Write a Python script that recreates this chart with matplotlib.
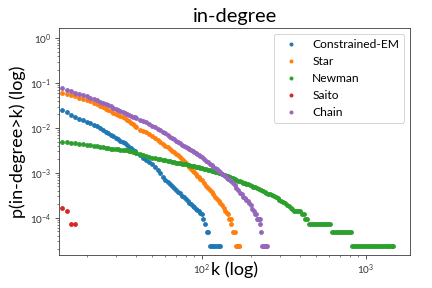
import matplotlib
matplotlib.use("Agg")
import matplotlib.pyplot as plt

plt.rcParams['font.family'] = ['Lato', 'DejaVu Sans']
plt.rcParams['mathtext.fontset'] = 'custom'
plt.rcParams['mathtext.rm'] = 'Lato'
plt.rcParams['mathtext.it'] = 'Lato:italic'
plt.rcParams['mathtext.bf'] = 'Lato:bold'

title = "in-degree"
xlabel = "k (log)"
ylabel = "p(in-degree>k) (log)"
labels = ["Constrained-EM", "Star", "Newman", "Saito", "Chain"]
colors = ["#1f77b4", "#ff7f0e", "#2ca02c", "#d62728", "#9467bd"]

# Constrained-EM
k_cem = [14, 15, 16, 17, 18, 19, 20, 21, 22, 23, 24, 25, 26, 27, 28, 29, 30, 31, 32, 33, 34, 35, 36, 37, 38, 39,
         40, 42, 44, 46, 48, 50, 52, 54, 56, 58, 60, 62, 64, 66, 68, 70, 72, 74, 76, 78, 80, 82, 84, 86, 88, 90, 92, 94, 96, 98,
         100, 102, 105, 108, 110, 112, 115, 118, 121, 124, 127, 129]
p_cem = [0.0251, 0.0222, 0.0197, 0.0177, 0.0160, 0.0147, 0.0136, 0.0126, 0.0118, 0.0110,
         0.0101, 0.00916, 0.00835, 0.00769, 0.00708, 0.00655, 0.00607, 0.00563, 0.00523, 0.00488, 0.00455, 0.00420, 0.00384, 0.00355, 0.00328, 0.00305,
         0.00284, 0.00246, 0.00218, 0.00195, 0.00174, 0.00156, 0.00134, 0.00115, 0.00097, 0.000818, 0.000700, 0.000615,
         0.000557, 0.000505, 0.000450, 0.000415, 0.000380, 0.000350, 0.000313, 0.000285, 0.000260, 0.000238, 0.000217, 0.000199, 0.000182, 0.000170, 0.000159, 0.000150, 0.000141, 0.000130,
         0.000120, 9.6e-5, 7.2e-5, 4.8e-5, 4.8e-5, 2.4e-5, 2.4e-5, 2.4e-5, 2.4e-5, 2.4e-5, 2.4e-5, 2.4e-5]

# Star
k_star = [14, 15, 16, 17, 18, 19, 20, 21, 22, 23, 24, 25, 26, 27, 28, 29, 30, 31, 32, 33, 34, 35, 36, 37, 38, 39,
          40, 42, 44, 46, 48, 50, 52, 54, 56, 58, 60, 62, 64, 66, 68, 70, 72, 74, 76, 78, 80, 82, 84, 86, 88, 90, 92, 94, 96, 98,
          100, 103, 106, 109, 112, 115, 118, 121, 124, 127, 130, 133, 136, 139, 142, 145, 147,
          150, 152, 156, 159,
          162, 164, 166, 168, 170]
p_star = [0.0614, 0.0571, 0.0537, 0.0505, 0.0477, 0.0453, 0.0428, 0.0397, 0.0365, 0.0336,
          0.0311, 0.0288, 0.0268, 0.0251, 0.0235, 0.0220, 0.0207, 0.0195, 0.0184, 0.0174, 0.0164, 0.0152, 0.0140, 0.0130, 0.0120, 0.0112,
          0.0105, 0.00912, 0.00849, 0.00794, 0.00728, 0.00656, 0.00592, 0.00540, 0.00490, 0.00444, 0.00405, 0.00370,
          0.00340, 0.00312, 0.00285, 0.00265, 0.00248, 0.00224, 0.00202, 0.00183, 0.00165, 0.00149, 0.00134, 0.00122, 0.00111, 0.00102, 0.000935, 0.000870, 0.000805, 0.000740,
          0.000681, 0.000595, 0.000520, 0.000460, 0.000412, 0.000373, 0.000332, 0.000296, 0.000262, 0.000235, 0.000210, 0.000188, 0.000163, 0.000145, 0.000130, 0.000119, 9.6e-5,
          9.6e-5, 7.2e-5, 4.8e-5, 4.8e-5,
          2.4e-5, 2.4e-5, 2.4e-5, 2.4e-5, 2.4e-5]

# Newman
k_new = [14, 15, 16, 17, 18, 19, 20, 21, 22, 23, 24, 25, 26, 27, 28, 29, 30, 31, 32, 33, 34, 35, 36, 37, 38, 39,
         40, 42, 44, 46, 48, 50, 52, 54, 56, 58, 60, 62, 64, 66, 68, 70, 72, 74, 76, 78, 80, 82, 84, 86, 88, 90, 92, 94, 96, 98,
         100, 103, 106, 109, 112, 115, 118, 121, 124, 127, 130, 133, 136, 139, 142, 145, 148, 151, 155, 159, 163, 167, 171, 175,
         179, 183, 187, 192, 197, 202, 207, 212, 218, 224, 230, 236, 242, 248, 255, 262, 269, 276, 283, 290, 298, 306, 314,
         322, 330, 339, 348, 357, 366, 376, 386, 396, 407, 418, 429, 440,
         452, 464, 477, 490, 503, 517, 531, 545, 560, 575, 590, 606,
         622, 639, 656, 674, 692, 711, 730, 750, 770, 791, 812,
         830, 852, 875, 899, 923, 948, 974, 1000, 1027, 1055, 1083, 1112, 1142, 1173, 1205, 1237, 1270, 1305, 1340,
         1376, 1413, 1440, 1466]
p_new = [0.00497, 0.00484, 0.00474, 0.00465, 0.00451, 0.00437, 0.00422, 0.00411, 0.00398, 0.00388,
         0.00378, 0.00369, 0.00360, 0.00351, 0.00342, 0.00338, 0.00335, 0.00332, 0.00330, 0.00327, 0.00325, 0.00316, 0.00308, 0.00300, 0.00293, 0.00286,
         0.00279, 0.00264, 0.00248, 0.00233, 0.00223, 0.00217, 0.00211, 0.00206, 0.00201, 0.00195, 0.00190, 0.00186,
         0.00182, 0.00178, 0.00173, 0.00170, 0.00167, 0.00164, 0.00160, 0.00157, 0.00154, 0.00151, 0.00148, 0.00145, 0.00143, 0.00140, 0.00138, 0.00136, 0.00134, 0.00131,
         0.00129, 0.00125, 0.00121, 0.00118, 0.00114, 0.00111, 0.00108, 0.00105, 0.00102, 0.00100, 0.000975, 0.000950, 0.000910, 0.000884, 0.000855, 0.000831, 0.000805, 0.000780, 0.000752, 0.000725, 0.000700, 0.000672, 0.000645, 0.000625,
         0.000604, 0.000590, 0.000577, 0.000560, 0.000540, 0.000515, 0.000495, 0.000475, 0.000455, 0.000433, 0.000410, 0.000392, 0.000375, 0.000362, 0.000345, 0.000330, 0.000318, 0.000300, 0.000287, 0.000270, 0.000255, 0.000240, 0.000225,
         0.000210, 0.000196, 0.000185, 0.000168, 0.000155, 0.000144, 0.000144, 0.000144, 0.000144, 0.000120, 0.000120, 9.6e-5, 9.6e-5,
         7.2e-5, 7.2e-5, 7.2e-5, 7.2e-5, 7.2e-5, 7.2e-5, 7.2e-5, 7.2e-5, 7.2e-5, 7.2e-5, 7.2e-5, 7.2e-5,
         4.8e-5, 4.8e-5, 4.8e-5, 4.8e-5, 4.8e-5, 4.8e-5, 4.8e-5, 4.8e-5, 4.8e-5, 4.8e-5, 4.8e-5,
         2.4e-5, 2.4e-5, 2.4e-5, 2.4e-5, 2.4e-5, 2.4e-5, 2.4e-5, 2.4e-5, 2.4e-5, 2.4e-5, 2.4e-5, 2.4e-5, 2.4e-5, 2.4e-5, 2.4e-5, 2.4e-5, 2.4e-5, 2.4e-5, 2.4e-5,
         2.4e-5, 2.4e-5, 2.4e-5, 2.4e-5]

# Saito
k_saito = [14, 15, 16, 17]
p_saito = [0.000168, 0.000144, 7.2e-5, 7.2e-5]

# Chain
k_chain = [14, 15, 16, 17, 18, 19, 20, 21, 22, 23, 24, 25, 26, 27, 28, 29, 30, 31, 32, 33, 34, 35, 36, 37, 38, 39,
           40, 42, 44, 46, 48, 50, 52, 54, 56, 58, 60, 62, 64, 66, 68, 70, 72, 74, 76, 78, 80, 82, 84, 86, 88, 90, 92, 94, 96, 98,
           100, 103, 106, 109, 112, 115, 118, 121, 124, 127, 130, 133, 136, 139, 142, 145, 148, 151, 155, 159, 163, 167, 171, 175,
           179, 183, 187, 191, 195, 200, 204, 208,
           212, 215, 218, 220, 222, 224, 226, 227, 229, 233, 236, 239, 242, 245, 248, 250]
p_chain = [0.0769, 0.0708, 0.0659, 0.0614, 0.0574, 0.0540, 0.0510, 0.0477, 0.0444, 0.0415,
           0.0388, 0.0365, 0.0343, 0.0324, 0.0303, 0.0285, 0.0268, 0.0252, 0.0238, 0.0225, 0.0213, 0.0204, 0.0195, 0.0187, 0.0179, 0.0172,
           0.0165, 0.0152, 0.0142, 0.0133, 0.0123, 0.0113, 0.0104, 0.00965, 0.00895, 0.00822, 0.00758, 0.00695,
           0.00646, 0.00600, 0.00557, 0.00521, 0.00487, 0.00455, 0.00426, 0.00402, 0.00378, 0.00358, 0.00338, 0.00320, 0.00302, 0.00287, 0.00272, 0.00259, 0.00247, 0.00234,
           0.00222, 0.00204, 0.00188, 0.00174, 0.00161, 0.00149, 0.00138, 0.00128, 0.00119, 0.00111, 0.00103, 0.000960, 0.000900, 0.000840, 0.000785, 0.000735, 0.000690, 0.000645, 0.000590, 0.000540, 0.000455, 0.000405, 0.000365, 0.000330,
           0.000296, 0.000275, 0.000254, 0.000235, 0.000217, 0.000190, 0.000156, 0.000144,
           0.000120, 0.000120, 9.6e-5, 9.6e-5, 9.6e-5, 9.6e-5, 9.6e-5, 7.2e-5, 4.8e-5,
           2.4e-5, 2.4e-5, 2.4e-5, 2.4e-5, 2.4e-5, 2.4e-5, 2.4e-5]

series = [(k_cem, p_cem), (k_star, p_star), (k_new, p_new), (k_saito, p_saito), (k_chain, p_chain)]

fig = plt.figure(figsize=(6, 4), dpi=72)
ax = fig.add_axes([59 / 432, 1 - 255 / 288, 351 / 432, 227 / 288])

for (k, p), lab, c in zip(series, labels, colors):
    ax.plot(k, p, '.', color=c, markersize=7.5, label=lab)

ax.set_xscale('log')
ax.set_yscale('log')
ax.set_xlim(13.5, 1862)
ax.set_ylim(10 ** -4.83, 10 ** 0.228)

ax.set_title(title, fontsize=20, pad=6)
ax.set_xlabel(xlabel, fontsize=18)
ax.xaxis.set_label_coords(0.5, -0.03)
ax.set_ylabel(ylabel, fontsize=18, labelpad=4)

ax.tick_params(axis='both', which='major', labelsize=10, colors='#333333', length=4)
ax.tick_params(axis='both', which='minor', colors='#333333', length=2)
for sp in ax.spines.values():
    sp.set_color('#333333')

leg = ax.legend(loc='upper right', fontsize=12, frameon=True, markerscale=0.8)

fig.savefig('out.png', dpi=72)
